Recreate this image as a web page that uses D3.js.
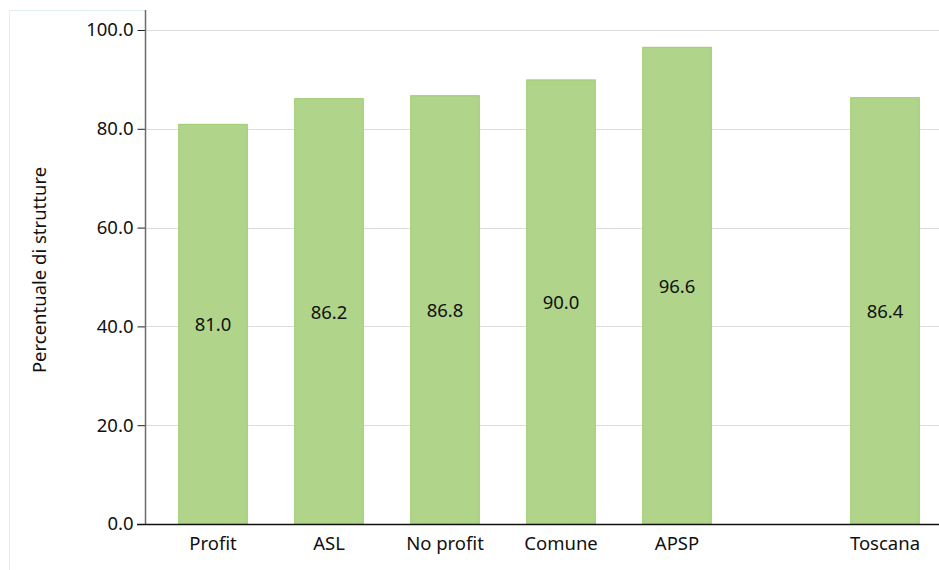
<!DOCTYPE html>
<html><head><meta charset="utf-8">
<script src="https://cdn.jsdelivr.net/npm/d3@7"></script>
<style>body{margin:0;background:#fff}svg{display:block}text{font-family:"Noto Sans",sans-serif}</style>
</head><body>
<svg id="c" width="939" height="570"></svg>
<script>
(function(){
const groupCats = ["Profit","ASL","No profit","Comune","APSP"];
const refCats = ["Toscana"];
const groupVals = [81.0, 86.2, 86.8, 90.0, 96.6];
const refVals = [86.4];
const yTicks = [0,20,40,60,80,100];
const yTitle = "Percentuale di strutture";

const FS = 18.5;
const svg = d3.select("#c");
const mLeft = 145, mBottom = 524, mTop = 30, mRight = 939;
const y = d3.scaleLinear().domain([0,100]).range([mBottom, mTop]);
const xG = d3.scaleBand().domain(groupCats).range([155, 735]).paddingInner(0.4).paddingOuter(0.2);
const xR = d3.scaleBand().domain(refCats).range([827, 943]).paddingInner(0.4).paddingOuter(0.2);

// frame
svg.append("path").attr("d","M9.5,570V10.5H145").attr("fill","none").attr("stroke","#dff0ee").attr("stroke-width",1);

// grid
svg.append("g").selectAll("line").data(yTicks.filter(t=>t>0)).join("line")
  .attr("x1",mLeft).attr("x2",mRight).attr("y1",d=>Math.round(y(d))+0.5).attr("y2",d=>Math.round(y(d))+0.5)
  .attr("stroke","#dcdcdc");

const bars = [...groupCats.map((c,i)=>({c,v:groupVals[i],x:xG})), ...refCats.map((c,i)=>({c,v:refVals[i],x:xR}))];

svg.append("g").selectAll("rect").data(bars).join("rect")
  .attr("x",d=>d.x(d.c)+0.5).attr("width",d=>d.x.bandwidth()-1)
  .attr("y",d=>y(d.v)+0.5).attr("height",d=>mBottom-y(d.v)-0.5)
  .attr("fill","#b0d58a").attr("stroke","#9ccb6d").attr("stroke-width",1);

svg.append("g").selectAll("text").data(bars).join("text")
  .attr("x",d=>d.x(d.c)+d.x.bandwidth()/2).attr("y",d=>y(d.v/2))
  .attr("text-anchor","middle").attr("dominant-baseline","central")
  .attr("font-size",FS).attr("fill","#111").text(d=>d.v.toFixed(1));

// y axis
const ya = svg.append("g").attr("transform",`translate(${mLeft+0.5},0)`)
  .call(d3.axisLeft(y).tickValues(yTicks).tickFormat(d=>d.toFixed(1)).tickSize(8).tickSizeOuter(0));
ya.select(".domain").remove();
ya.selectAll(".tick line").attr("stroke","#222");
ya.selectAll(".tick text").attr("font-size",FS).attr("fill","#111").attr("x",-12);
svg.append("line").attr("x1",mLeft+0.5).attr("x2",mLeft+0.5).attr("y1",10).attr("y2",mBottom).attr("stroke","#6b6b6b").attr("stroke-width",1.5);

// x axis
svg.append("line").attr("x1",137).attr("x2",mRight).attr("y1",mBottom+0.5).attr("y2",mBottom+0.5).attr("stroke","#111").attr("stroke-width",1.5);
const xaG = svg.append("g").attr("transform",`translate(0,${mBottom})`).call(d3.axisBottom(xG).tickSize(0));
const xaR = svg.append("g").attr("transform",`translate(0,${mBottom})`).call(d3.axisBottom(xR).tickSize(0));
[xaG,xaR].forEach(a=>{a.select(".domain").remove();
  a.selectAll(".tick text").attr("font-size",FS).attr("fill","#111").attr("dy","0").attr("y",26);});

svg.append("text").attr("transform","translate(46,270) rotate(-90)").attr("text-anchor","middle")
  .attr("font-size",FS).attr("fill","#111").text(yTitle);
})();
</script>
</body></html>
